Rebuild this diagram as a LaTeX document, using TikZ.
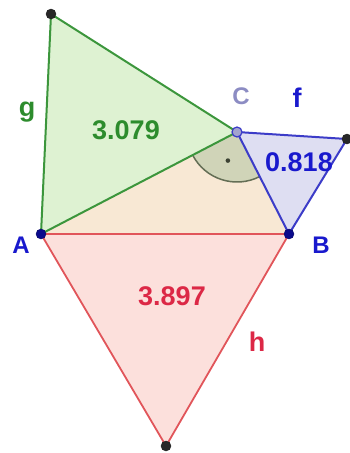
\documentclass[tikz,border=0pt]{standalone}
\usepackage{fontspec}
\setmainfont{Liberation Sans}
\definecolor{gline}{RGB}{60,150,60}
\definecolor{gfill}{RGB}{222,242,210}
\definecolor{gtext}{RGB}{45,140,45}
\definecolor{bline}{RGB}{60,60,200}
\definecolor{bfill}{RGB}{222,222,242}
\definecolor{btext}{RGB}{25,25,205}
\definecolor{rline}{RGB}{225,85,90}
\definecolor{rfill}{RGB}{252,224,220}
\definecolor{rtext}{RGB}{220,40,70}
\definecolor{tfill}{RGB}{248,232,212}
\definecolor{cfill}{RGB}{208,212,184}
\definecolor{cline}{RGB}{100,110,85}
\definecolor{clab}{RGB}{140,140,195}
\definecolor{ptblue}{RGB}{10,10,140}
\definecolor{ptdark}{RGB}{40,40,40}
\tikzset{
  bigl/.style={font=\fontsize{27}{30}\selectfont\bfseries},
  ptl/.style={font=\fontsize{24}{26}\selectfont\bfseries},
  dotpt/.style={circle,inner sep=0pt,minimum size=10pt,fill=#1,draw=#1!70!black},
}
\begin{document}
\begin{tikzpicture}[x=1pt,y=1pt]
\useasboundingbox (0,0) rectangle (350,-453);
\coordinate (A) at (41,-234);
\coordinate (B) at (289,-234);
\coordinate (C) at (237,-132);
\coordinate (G) at (51,-14);
\coordinate (F) at (347,-139);
\coordinate (H) at (166,-446);
% fills
\fill[tfill] (A) -- (B) -- (C) -- cycle;
\fill[rfill] (A) -- (B) -- (H) -- cycle;
\fill[gfill] (A) -- (C) -- (G) -- cycle;
\fill[bfill] (C) -- (F) -- (B) -- cycle;
% right angle sector
\fill[cfill] (C) -- ++(207.5:50) arc[start angle=207.5, end angle=297, radius=50] -- cycle;
\draw[cline, line width=1.5pt] (C) ++(207.5:50) arc[start angle=207.5, end angle=297, radius=50];
\fill[cline!60!black] (C) ++(252.3:30) circle (2.3);
% lines
\draw[rline, line width=1.8pt] (A) -- (B) -- (H) -- cycle;
\draw[gline, line width=2pt] (A) -- (C) -- (G) -- cycle;
\draw[bline, line width=2pt] (C) -- (F) -- (B) -- cycle;
% points
\node[dotpt=ptdark] (g0) at (G) {};
\node[dotpt=ptdark] (f0) at (F) {};
\node[dotpt=ptdark] (h0) at (H) {};
\node[dotpt=ptblue] (a0) at (A) {};
\node[dotpt=ptblue] (b0) at (B) {};
\node[circle,inner sep=0pt,minimum size=10pt,fill=clab!80!white,draw=bline,line width=1.2pt] (c0) at (C) {};
% labels
\node[ptl,text=btext] (la) at (21,-245) {A};
\node[ptl,text=btext] (lb) at (321,-245) {B};
\node[ptl,text=clab] (lc) at (241,-96) {C};
\node[bigl,text=btext] (lf) at (297,-98) {f};
\node[bigl,text=gtext] (lg) at (27,-112) {g};
\node[bigl,text=rtext] (lh) at (257,-342) {h};
\node[bigl,text=gtext] (n1) at (126,-130) {3.079};
\node[bigl,text=btext] (n2) at (299,-162) {0.818};
\node[bigl,text=rtext] (n3) at (172,-296) {3.897};
\end{tikzpicture}
\end{document}
